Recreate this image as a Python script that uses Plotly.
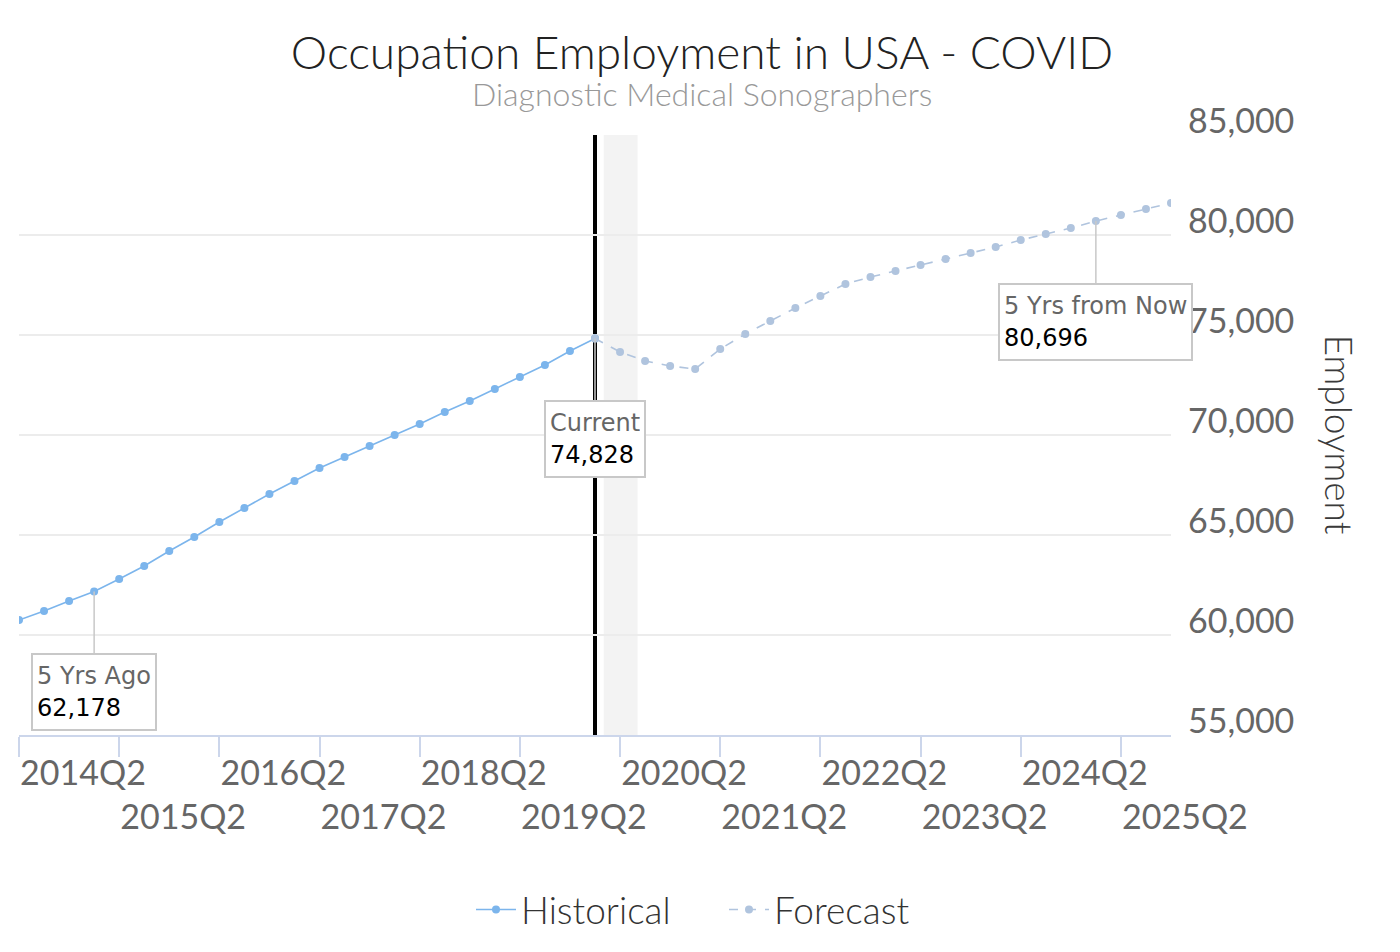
import plotly.graph_objects as go

quarters = [
    "2014Q2", "2014Q3", "2014Q4",
    "2015Q1", "2015Q2", "2015Q3", "2015Q4",
    "2016Q1", "2016Q2", "2016Q3", "2016Q4",
    "2017Q1", "2017Q2", "2017Q3", "2017Q4",
    "2018Q1", "2018Q2", "2018Q3", "2018Q4",
    "2019Q1", "2019Q2", "2019Q3", "2019Q4",
    "2020Q1", "2020Q2", "2020Q3", "2020Q4",
    "2021Q1", "2021Q2", "2021Q3", "2021Q4",
    "2022Q1", "2022Q2", "2022Q3", "2022Q4",
    "2023Q1", "2023Q2", "2023Q3", "2023Q4",
    "2024Q1", "2024Q2", "2024Q3", "2024Q4",
    "2025Q1", "2025Q2", "2025Q3", "2025Q4",
]

historical_quarters = quarters[0:24]
historical_values = [60750, 61200, 61700, 62178, 62800, 63450, 64200, 64900,
                     65650, 66350, 67050, 67700, 68350, 68900, 69450, 70000,
                     70550, 71150, 71700, 72300, 72900, 73500, 74200, 74828]

forecast_quarters = quarters[23:47]
forecast_values = [74828, 74150, 73700, 73450, 73300, 74300, 75050, 75700,
                   76350, 76950, 77550, 77900, 78200, 78500, 78800, 79100,
                   79400, 79750, 80050, 80350, 80696, 81000, 81300, 81600]

tick_quarters = ["2014Q2", "2015Q2", "2016Q2", "2017Q2", "2018Q2", "2019Q2",
                 "2020Q2", "2021Q2", "2022Q2", "2023Q2", "2024Q2", "2025Q2"]
tick_text = [q if i % 2 == 0 else "<br>" + q for i, q in enumerate(tick_quarters)]

y_ticks = [55000, 60000, 65000, 70000, 75000, 80000, 85000]

callouts = [
    ("5 Yrs Ago", "2015Q1", 62178),
    ("Current", "2020Q1", 74828),
    ("5 Yrs from Now", "2025Q1", 80696),
]

FONT = "Lato"
W, H = 1384, 936  # page body has an 8px margin

fig = go.Figure()
fig.add_trace(go.Scatter(
    x=historical_quarters, y=historical_values, name="Historical",
    mode="lines+markers",
    line=dict(color="#7cb5ec", width=1.6),
    marker=dict(color="#7cb5ec", size=8),
))
fig.add_trace(go.Scatter(
    x=forecast_quarters, y=forecast_values, name="Forecast",
    mode="lines+markers",
    line=dict(color="#b0c4de", width=1.6, dash="dash"),
    marker=dict(color="#b0c4de", size=8),
))

# COVID band and current line
fig.add_shape(type="rect", xref="x", yref="paper", x0=23.35, x1=24.7, y0=0, y1=1,
              fillcolor="#f3f3f3", line=dict(width=0), layer="below")
fig.add_shape(type="line", xref="x", yref="paper", x0=23, x1=23, y0=0, y1=1,
              line=dict(color="black", width=4), layer="between")

for label, q, v in callouts:
    fig.add_annotation(
        x=q, y=v, xref="x", yref="y",
        text=f"<span style='color:#666666'>{label}</span><br><span style='color:#000000'>{v:,}</span>",
        showarrow=True, arrowhead=0, arrowcolor="#c8c8c8", arrowwidth=1.5,
        ax=0, ay=101, align="left", height=66, valign="middle",
        font=dict(family="DejaVu Sans", size=24, color="#000000"),
        bgcolor="white", bordercolor="#c8c8c8", borderwidth=2, borderpad=4,
    )

# Y axis title (rotated clockwise)
fig.add_annotation(
    text="Employment", xref="paper", yref="paper", x=1.147, y=0.5,
    xanchor="center", yanchor="middle", showarrow=False, textangle=90,
    font=dict(family=FONT, size=37, color="#3a3a3a", weight=300),
)

# Subtitle
fig.add_annotation(
    text="Diagnostic Medical Sonographers", xref="paper", yref="paper",
    x=(702 - 19) / 1152, y=1 + (135 - 94) / 600,
    xanchor="center", yanchor="middle", showarrow=False,
    font=dict(family=FONT, size=32, color="#999999", weight=300),
)

fig.update_layout(
    width=W, height=H,
    margin=dict(l=11, r=W - 11 - 1152, t=127, b=H - 127 - 600),
    paper_bgcolor="white", plot_bgcolor="white",
    font=dict(family=FONT, color="#666666"),
    title=dict(
        text="Occupation Employment in USA - COVID",
        xref="container", x=694 / W, xanchor="center",
        yref="container", y=1 - 45 / H, yanchor="middle",
        font=dict(family=FONT, size=46, color="#222222", weight=300),
        automargin=False,
    ),
    showlegend=True,
    legend=dict(
        orientation="h", xref="container", yref="container",
        x=463 / W, xanchor="left", y=1 - 902 / H, yanchor="middle",
        font=dict(family=FONT, size=37, color="#333333", weight=300),
        itemwidth=40, entrywidth=198,
    ),
    xaxis=dict(
        type="category", categoryorder="array", categoryarray=quarters,
        range=[0, 46], automargin=False,
        tickmode="array", tickvals=tick_quarters, ticktext=tick_text,
        tickangle=0,
        ticks="outside", ticklen=20, tickwidth=2, tickcolor="#ccd6eb",
        showline=True, linecolor="#ccd6eb", linewidth=2,
        showgrid=False, zeroline=False,
        tickfont=dict(family=FONT, size=34, color="#666666"),
        ticklabelshift=64, ticklabelstandoff=-13,
    ),
    yaxis=dict(
        side="right", range=[55000, 85000], automargin=False,
        tickmode="array", tickvals=y_ticks, tickformat=",",
        showgrid=True, gridcolor="#ececec", gridwidth=1.5,
        zeroline=False, showline=False, ticks="",
        tickfont=dict(family=FONT, size=34, color="#666666"),
        ticklabelstandoff=16, ticklabelshift=-14,
    ),
)

fig.write_html("out.html")
